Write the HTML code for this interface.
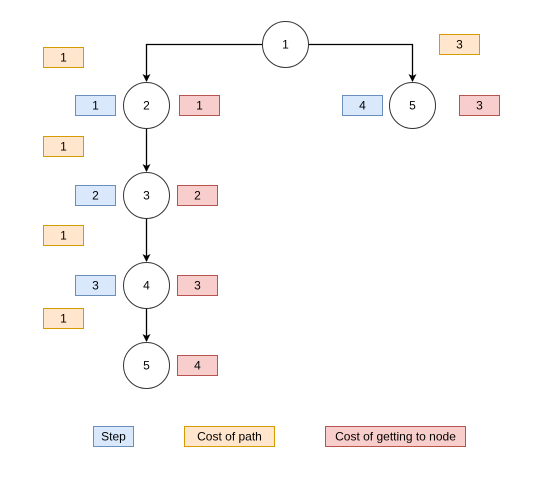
<!DOCTYPE html>
<html><head><style>body{margin:0;background:#fff}svg{display:block}text{font-family:"Liberation Sans",Arial,sans-serif;font-size:12px;fill:#000;text-anchor:middle;dominant-baseline:central}</style></head>
<body>
<svg width="541" height="480" viewBox="0 0 541 480" xmlns="http://www.w3.org/2000/svg">
<defs><marker id="a" markerWidth="10" markerHeight="10" refX="7" refY="5" orient="auto" markerUnits="userSpaceOnUse"><path d="M0,1 L8,5 L0,9 L2,5 Z" fill="#000"/></marker></defs>
<g stroke="#000" stroke-width="1.3" fill="none">
<path d="M262,44.5 H146.5 V81" marker-end="url(#a)"/>
<path d="M308,44.5 H412.5 V81" marker-end="url(#a)"/>
<path d="M146.5,128 V171" marker-end="url(#a)"/>
<path d="M146.5,218 V261" marker-end="url(#a)"/>
<path d="M146.5,308 V341" marker-end="url(#a)"/>
</g>
<g stroke="#333" fill="#fff">
<circle cx="285.5" cy="44.5" r="23"/><circle cx="146.5" cy="105.5" r="23"/><circle cx="412.5" cy="105.5" r="23"/>
<circle cx="146.5" cy="195.5" r="23"/><circle cx="146.5" cy="285.5" r="23"/><circle cx="146.5" cy="365.5" r="23"/>
</g>
<g stroke="#6c8ebf" fill="#dae8fc">
<rect x="75.5" y="95.5" width="40" height="20"/><rect x="75.5" y="185.5" width="40" height="20"/><rect x="75.5" y="275.5" width="40" height="20"/><rect x="342.5" y="95.5" width="40" height="20"/><rect x="93.5" y="426.5" width="40" height="20"/>
</g>
<g stroke="#d79b00" fill="#ffe6cc">
<rect x="43.5" y="47.5" width="40" height="20"/><rect x="43.5" y="136.5" width="40" height="20"/><rect x="43.5" y="225.5" width="40" height="20"/><rect x="43.5" y="308.5" width="40" height="20"/><rect x="439.5" y="34.5" width="40" height="20"/><rect x="184.5" y="426.5" width="90" height="20"/>
</g>
<g stroke="#b85450" fill="#f8cecc">
<rect x="179.5" y="95.5" width="40" height="20"/><rect x="177.5" y="185.5" width="40" height="20"/><rect x="177.5" y="275.5" width="40" height="20"/><rect x="177.5" y="355.5" width="40" height="20"/><rect x="459.5" y="95.5" width="40" height="20"/><rect x="325.5" y="426.5" width="140" height="20"/>
</g>
<text x="285.5" y="44.5">1</text><text x="146.5" y="105.5">2</text><text x="412.5" y="105.5">5</text><text x="146.5" y="195.5">3</text><text x="146.5" y="285.5">4</text><text x="146.5" y="365.5">5</text>
<text x="95.5" y="105.5">1</text><text x="95.5" y="195.5">2</text><text x="95.5" y="285.5">3</text><text x="362.5" y="105.5">4</text><text x="113.5" y="436.5">Step</text>
<text x="63.5" y="57.5">1</text><text x="63.5" y="146.5">1</text><text x="63.5" y="235.5">1</text><text x="63.5" y="318.5">1</text><text x="459.5" y="44.5">3</text><text x="229.5" y="436.5">Cost of path</text>
<text x="199.5" y="105.5">1</text><text x="197.5" y="195.5">2</text><text x="197.5" y="285.5">3</text><text x="197.5" y="365.5">4</text><text x="479.5" y="105.5">3</text><text x="395.5" y="436.5">Cost of getting to node</text>
</svg>
</body></html>
